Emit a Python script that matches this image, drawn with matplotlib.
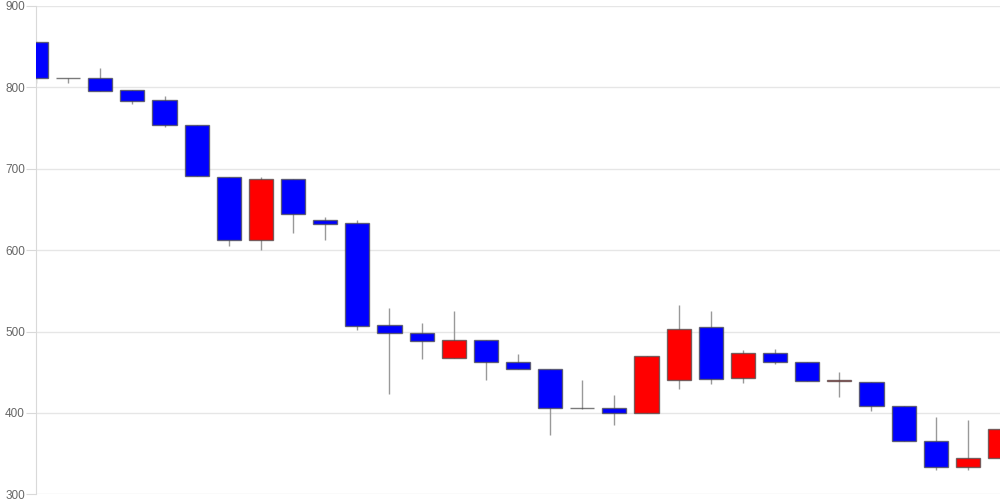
import matplotlib
matplotlib.use('Agg')
import matplotlib.pyplot as plt
import numpy as np

plt.rcParams['font.family'] = ['Liberation Sans', 'DejaVu Sans']

# 日足データ (始値, 高値, 安値, 終値)
opens = [856, 812, 811, 797, 784, 754, 690, 613, 687, 637, 633,
         508, 498, 467, 490, 462, 454, 406, 406, 400, 441,
         506, 443, 474, 463, 439, 438, 408, 366, 334, 344]
highs = [857, 812, 824, 797, 789, 754, 690, 690, 687, 641, 637,
         529, 511, 525, 490, 472, 454, 440, 422, 470, 533,
         525, 477, 479, 463, 450, 438, 408, 395, 391, 380]
lows = [805, 805, 796, 780, 751, 691, 605, 600, 621, 612, 502,
        423, 466, 467, 441, 454, 373, 405, 385, 400, 429,
        436, 437, 460, 439, 419, 402, 366, 330, 330, 344]
closes = [812, 811, 796, 783, 754, 691, 613, 687, 644, 632, 507,
          498, 488, 490, 462, 454, 406, 405.5, 400, 470, 503,
          442, 474, 463, 439, 440, 408, 366, 334, 344, 380]
yticks = [300, 400, 500, 600, 700, 800, 900]

fig = plt.figure(figsize=(10, 5), dpi=100)
ax = fig.add_axes([0.036, 0.0114, 0.964, 0.9766])

x = np.arange(len(opens))
for i in x:
    o, h, l, c = opens[i], highs[i], lows[i], closes[i]
    color = 'red' if c > o else 'blue'
    ax.vlines(i, l, h, color='#999999', linewidth=1, zorder=2)
    bottom = min(o, c)
    height = max(abs(c - o), 0.6)
    ax.bar(i, height, bottom=bottom, width=0.75, color=color,
           edgecolor=(0.3, 0.3, 0.3, 0.75), linewidth=1, zorder=3)

ax.set_xlim(0, 30)
ax.set_ylim(300, 900)
ax.set_yticks(yticks)
ax.set_xticks([])
ax.grid(axis='y', color='#e6e6e6', linewidth=1, zorder=0)
for s in ['top', 'right', 'bottom']:
    ax.spines[s].set_visible(False)
ax.spines['left'].set_color('#d9d9d9')
ax.tick_params(axis='y', length=7, color='#d9d9d9', labelcolor='#666666',
               labelsize=8.5, pad=1)

fig.savefig('out.png', dpi=100)
